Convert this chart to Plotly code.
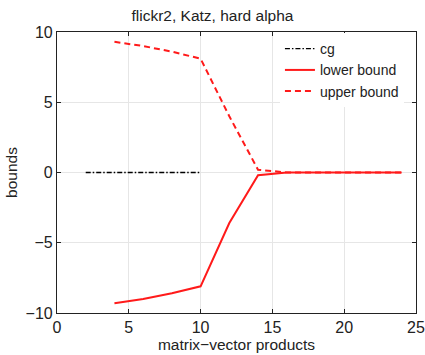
import plotly.graph_objects as go

# Katz bounds on flickr2 (hard alpha) versus matrix-vector products
cg_x = [2, 4, 6, 8, 10]
cg_y = [0, 0, 0, 0, 0]

mv = [4, 6, 8, 10, 12, 14, 16, 18, 20, 22, 24]
lower = [-9.3, -9.0, -8.6, -8.1, -3.6, -0.2, 0.0, 0.0, 0.0, 0.0, 0.0]
upper = [9.3, 9.0, 8.6, 8.1, 4.0, 0.2, 0.0, 0.0, 0.0, 0.0, 0.0]

x_ticks = [0, 5, 10, 15, 20, 25]
y_ticks = [-10, -5, 0, 5, 10]
y_tick_text = ["\u221210", "\u22125", "0", "5", "10"]

font_family = "Liberation Sans, Arial, sans-serif"

fig = go.Figure()
fig.add_trace(go.Scatter(
    x=cg_x, y=cg_y, mode="lines", name="cg",
    line=dict(color="black", width=1.3, dash="5px,2px,1.5px,2px"),
))
fig.add_trace(go.Scatter(
    x=mv, y=lower, mode="lines", name="lower bound",
    line=dict(color="#ff1a1a", width=2),
))
fig.add_trace(go.Scatter(
    x=mv, y=upper, mode="lines", name="upper bound",
    line=dict(color="#ff1a1a", width=2, dash="6px,4px"),
))

axis_common = dict(
    showline=True, linecolor="#222", linewidth=1.2, mirror="ticks",
    ticks="inside", ticklen=4, tickcolor="#222",
    showgrid=True, gridcolor="#e6e6e6", gridwidth=1,
    zeroline=False, automargin=False,
    tickfont=dict(family=font_family, size=16, color="#222"),
)

fig.update_layout(
    width=425, height=355,
    margin=dict(l=57, r=9, t=32, b=42),
    paper_bgcolor="white", plot_bgcolor="white",
    font=dict(family=font_family, color="#222"),
    title=dict(text="flickr2, Katz, hard alpha", x=0.5, xanchor="center",
               y=0.957, yanchor="middle", font=dict(size=15.5, family=font_family)),
    xaxis=dict(range=[0, 25], tickvals=x_ticks,
               title=dict(text="matrix\u2212vector products", standoff=0,
                          font=dict(size=15.5, family=font_family)),
               **axis_common),
    yaxis=dict(range=[-10, 10], tickvals=y_ticks, ticktext=y_tick_text,
               title=dict(text="bounds", standoff=4,
                          font=dict(size=15.5, family=font_family)),
               **axis_common),
    legend=dict(x=0.621, y=0.996, xanchor="left", yanchor="top",
                bgcolor="rgba(255,255,255,1)", borderwidth=0,
                font=dict(size=14, family=font_family),
                itemwidth=30, tracegroupgap=0),
    showlegend=True,
)

fig.write_html("out.html")
